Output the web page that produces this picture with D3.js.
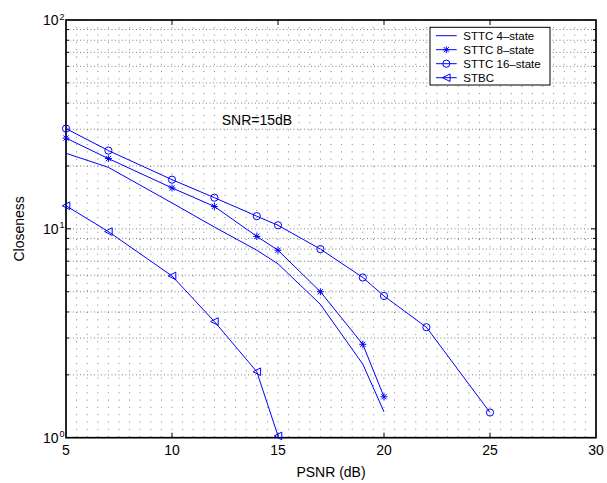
<!DOCTYPE html>
<html>
<head>
<meta charset="UTF-8">
<title>Closeness vs PSNR</title>
<script src="https://cdn.jsdelivr.net/npm/d3@7"></script>
<style>
    body { margin: 0; background: #fff; }
    svg { display: block; font-family: "Liberation Sans", Arial, Helvetica, sans-serif; }
    .grid-v { stroke: #808080; stroke-width: 1; stroke-dasharray: 1,6.3; }
    .grid-h { stroke: #808080; stroke-width: 1; stroke-dasharray: 1,2.5; }
    .series { fill: none; stroke: #0000ff; stroke-width: 1; }
    .marker { fill: none; stroke: #0000ff; stroke-width: 1; }
</style>
</head>
<body>
<svg id="chart" width="607" height="483"></svg>
<script>
    // данные
    const psnr4 = [5, 7, 10, 12, 14, 15, 17, 19, 20];
    const sttc4 = [23.0, 19.7, 13.3, 10.2, 7.9, 6.8, 4.35, 2.25, 1.33];

    const psnr8 = [5, 7, 10, 12, 14, 15, 17, 19, 20];
    const sttc8 = [27.2, 21.7, 15.7, 12.8, 9.2, 7.9, 5.0, 2.8, 1.57];

    const psnr16 = [5, 7, 10, 12, 14, 15, 17, 19, 20, 22, 25];
    const sttc16 = [30.2, 23.7, 17.2, 14.1, 11.5, 10.4, 8.0, 5.85, 4.77, 3.38, 1.32];

    const psnrStbc = [5, 7, 10, 12, 14, 15];
    const stbc = [12.9, 9.7, 5.95, 3.6, 2.07, 1.02];

    const seriesNames = ['STTC 4\u2013state', 'STTC 8\u2013state', 'STTC 16\u2013state', 'STBC'];
    const markerTypes = ['none', 'star', 'circle', 'triangle'];

    const xTicks = [5, 10, 15, 20, 25, 30];
    const yDecades = [0, 1, 2];

    const svg = d3.select('#chart');
    const plotL = 66, plotR = 596, plotT = 20, plotB = 437.7;

    const x = d3.scaleLinear().domain([5, 30]).range([plotL, plotR]);
    const y = d3.scaleLog().domain([1, 100]).range([plotB, plotT]);

    // сетка: вертикальные линии каждые 0.5, горизонтальные по логарифмическим делениям
    const gridG = svg.append('g');
    const vGrid = d3.range(5.5, 30, 0.5);
    gridG.selectAll('.grid-v').data(vGrid).enter().append('line')
        .attr('class', 'grid-v')
        .attr('x1', d => x(d)).attr('x2', d => x(d))
        .attr('y1', plotT).attr('y2', plotB);

    const hGrid = [];
    [1, 10].forEach(base => d3.range(1, 10).forEach(k => hGrid.push(base * k)));
    const hGridInner = hGrid.filter(v => v > 1 && v < 100);
    gridG.selectAll('.grid-h').data(hGridInner).enter().append('line')
        .attr('class', 'grid-h')
        .attr('x1', plotL).attr('x2', plotR)
        .attr('y1', d => y(d)).attr('y2', d => y(d));

    // рамка и тики
    const axG = svg.append('g').attr('stroke', '#000');
    axG.append('rect')
        .attr('x', plotL).attr('y', plotT)
        .attr('width', plotR - plotL).attr('height', plotB - plotT)
        .attr('fill', 'none').attr('stroke-width', 1.7);

    xTicks.slice(1, -1).forEach(t => {
        axG.append('line').attr('x1', x(t)).attr('x2', x(t)).attr('y1', plotB).attr('y2', plotB - 5).attr('stroke-width', 1);
        axG.append('line').attr('x1', x(t)).attr('x2', x(t)).attr('y1', plotT).attr('y2', plotT + 5).attr('stroke-width', 1);
    });
    hGridInner.forEach(v => {
        const len = (v === 10) ? 5 : 3;
        axG.append('line').attr('x1', plotL).attr('x2', plotL + len).attr('y1', y(v)).attr('y2', y(v)).attr('stroke-width', 1);
        axG.append('line').attr('x1', plotR).attr('x2', plotR - len).attr('y1', y(v)).attr('y2', y(v)).attr('stroke-width', 1);
    });

    // подписи осей
    const textG = svg.append('g').attr('fill', '#000');
    textG.selectAll('.xt').data(xTicks).enter().append('text')
        .attr('x', d => x(d)).attr('y', 455)
        .attr('text-anchor', 'middle').attr('font-size', 14)
        .text(d => d);

    yDecades.forEach(p => {
        const ty = y(Math.pow(10, p));
        textG.append('text')
            .attr('x', 58.5).attr('y', ty + 5)
            .attr('text-anchor', 'end').attr('font-size', 14)
            .text('10');
        textG.append('text')
            .attr('x', 59.5).attr('y', ty - 0.5)
            .attr('font-size', 9)
            .text(p);
    });

    textG.append('text')
        .attr('x', (plotL + plotR) / 2).attr('y', 477)
        .attr('text-anchor', 'middle').attr('font-size', 14)
        .text('PSNR (dB)');

    textG.append('text')
        .attr('transform', `translate(24,${(plotT + plotB) / 2}) rotate(-90)`)
        .attr('text-anchor', 'middle').attr('font-size', 14)
        .text('Closeness');

    textG.append('text')
        .attr('x', 221.7).attr('y', 125)
        .attr('font-size', 14)
        .text('SNR=15dB');

    // маркеры
    function drawMarker(g, type, cx, cy) {
        if (type === 'circle') {
            g.append('circle').attr('class', 'marker').attr('cx', cx).attr('cy', cy).attr('r', 3.6);
        } else if (type === 'star') {
            const s = 3.5, d = 2.6;
            g.append('path').attr('class', 'marker')
                .attr('d', `M${cx - s},${cy}H${cx + s}M${cx},${cy - s}V${cy + s}` +
                    `M${cx - d},${cy - d}L${cx + d},${cy + d}M${cx - d},${cy + d}L${cx + d},${cy - d}`);
        } else if (type === 'triangle') {
            const s = 3.8;
            g.append('path').attr('class', 'marker')
                .attr('d', `M${cx - s},${cy}L${cx + s},${cy - s}L${cx + s},${cy + s}Z`);
        }
    }

    const line = d3.line().x(d => x(d[0])).y(d => y(d[1]));
    const allSeries = [
        [psnr4, sttc4], [psnr8, sttc8], [psnr16, sttc16], [psnrStbc, stbc]
    ];

    const dataG = svg.append('g');
    allSeries.forEach(([xs, ys], i) => {
        const pts = xs.map((v, j) => [v, ys[j]]);
        dataG.append('path').attr('class', 'series').attr('d', line(pts));
        pts.forEach(p => drawMarker(dataG, markerTypes[i], x(p[0]), y(p[1])));
    });

    // легенда
    const lg = svg.append('g');
    lg.append('rect')
        .attr('x', 430).attr('y', 27.3).attr('width', 120).attr('height', 57.7)
        .attr('fill', '#fff').attr('stroke', '#000').attr('stroke-width', 1);
    seriesNames.forEach((name, i) => {
        const ly = 35.7 + i * 14;
        lg.append('line').attr('class', 'series')
            .attr('x1', 436).attr('x2', 456.7).attr('y1', ly).attr('y2', ly);
        drawMarker(lg, markerTypes[i], 446.3, ly);
        lg.append('text')
            .attr('x', 463.3).attr('y', ly + 4)
            .attr('font-size', 11.5)
            .text(name);
    });
</script>
</body>
</html>
